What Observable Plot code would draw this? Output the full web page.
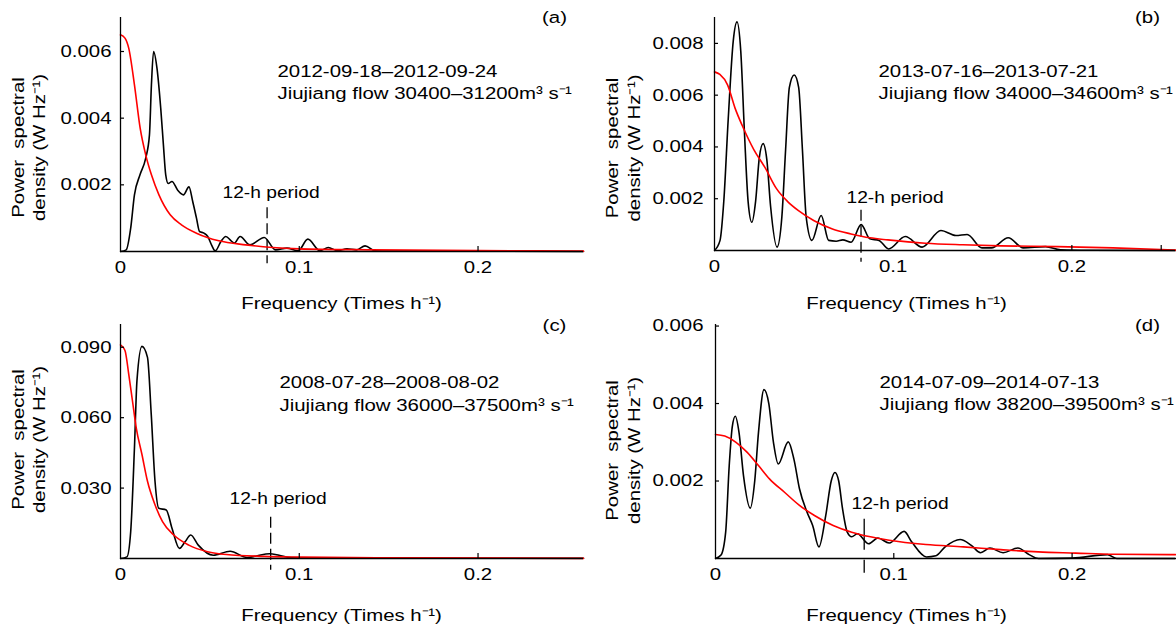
<!DOCTYPE html>
<html><head><meta charset="utf-8">
<script src="https://cdn.jsdelivr.net/npm/d3@7"></script>
<script src="https://cdn.jsdelivr.net/npm/@observablehq/plot@0.6"></script>
<style>
body{margin:0;background:#fff;}
#chart{position:relative;width:1176px;height:629px;overflow:hidden;background:#fff;}
#chart svg{position:absolute;}
</style></head><body><div id="chart"></div>
<script>
// ---------- DATA ----------
// (a) 2012-09-18 – 2012-09-24
const freqA = [0,0.0032,0.0057,0.0078,0.0109,0.0141,0.0162,0.0173,0.0185,0.0204,0.0225,0.024,0.0253,0.0267,0.0288,0.032,0.0352,0.0383,0.0404,0.0425,0.0442,0.0467,0.0488,0.0509,0.053,0.0562,0.0589,0.0619,0.0636,0.0669,0.0724,0.0804,0.0867,0.0931,0.0994,0.1048,0.1116,0.1162,0.1215,0.1267,0.132,0.1368,0.1425,0.15,0.2,0.259];
const psdA  = [0,0.00005,0.0007,0.0017,0.0023,0.0028,0.0035,0.005,0.006,0.0055,0.0043,0.0032,0.0023,0.00204,0.0021,0.00184,0.0017,0.00194,0.0015,0.001,0.0006,0.00055,0.00045,0.0002,0.00002,0.0003,0.00045,0.00032,0.00025,0.00045,0.0002,0.00042,0.00005,0.0001,0.00002,0.00037,0.00002,0.00012,0.00002,0.00008,0.00005,0.00017,0.00002,0.00001,0.00001,0];
const fitFreqA = [0,0.0025,0.0046,0.0078,0.011,0.0141,0.0173,0.0215,0.0278,0.0341,0.0425,0.055,0.07,0.085,0.1,0.14,0.2,0.259];
const fitA     = [0.0065,0.0064,0.0061,0.005,0.0037,0.0029,0.0023,0.0017,0.0011,0.0008,0.00055,0.00032,0.0002,0.00012,0.00008,0.00005,0.00003,0.00001];

// (b) 2013-07-16 – 2013-07-21
const freqB = [0,0.0031,0.0052,0.0077,0.0105,0.0126,0.0147,0.0168,0.0188,0.0209,0.023,0.0251,0.0272,0.0293,0.0314,0.035,0.0377,0.0398,0.0419,0.0446,0.0471,0.0492,0.0513,0.0545,0.0597,0.0639,0.0681,0.0718,0.0764,0.0821,0.0869,0.0921,0.0974,0.1068,0.1162,0.1267,0.1351,0.1414,0.1497,0.155,0.1644,0.1728,0.1853,0.1937,0.21,0.258];
const psdB  = [0,0.00039,0.0019,0.0051,0.0081,0.00883,0.0077,0.0045,0.0019,0.00109,0.0019,0.0036,0.00413,0.0035,0.0017,0.00013,0.0013,0.0039,0.0063,0.00678,0.0063,0.0039,0.0013,0.00039,0.00135,0.00039,0.00036,0.00041,0.00032,0.001,0.00045,0.00039,0.00006,0.00054,0.00013,0.00077,0.00058,0.00062,0.0001,0.0001,0.00049,0.0001,0.00015,0.00003,0.00001,0];
const fitFreqB = [0,0.003,0.0073,0.0115,0.0157,0.022,0.0283,0.0346,0.0408,0.047,0.0555,0.066,0.0764,0.087,0.097,0.118,0.139,0.16,0.192,0.223,0.258];
const fitB     = [0.0069,0.0068,0.0064,0.0055,0.0048,0.0039,0.0032,0.0024,0.0019,0.00154,0.00116,0.00083,0.00064,0.00049,0.00041,0.00028,0.00022,0.00018,0.00015,0.0001,0.00002];

// (c) 2008-07-28 – 2008-08-02
const freqC = [0,0.0036,0.0057,0.0078,0.0092,0.012,0.0151,0.0172,0.0193,0.0214,0.0256,0.0288,0.033,0.0361,0.0393,0.0435,0.0519,0.0613,0.0708,0.0761,0.0834,0.0887,0.095,0.12,0.259];
const psdC  = [0,0.0007,0.0114,0.0471,0.0757,0.0904,0.0857,0.0614,0.0329,0.0214,0.0207,0.0129,0.0043,0.0071,0.01,0.0057,0.0014,0.0031,0.0004,0.0011,0.002,0.0014,0.0004,0.0002,0.0001];
const fitFreqC = [0,0.0025,0.0046,0.0067,0.0088,0.012,0.0151,0.0193,0.0235,0.0298,0.0382,0.0487,0.0592,0.0803,0.101,0.143,0.259];
const fitC     = [0.091,0.0886,0.0786,0.0671,0.0557,0.0443,0.0329,0.0229,0.0157,0.01,0.0057,0.0029,0.0017,0.0009,0.0006,0.0003,0.00005];

// (d) 2014-07-09 – 2014-07-13
const freqD = [0,0.0031,0.0057,0.0077,0.0094,0.0111,0.0132,0.0157,0.0195,0.022,0.0241,0.0272,0.0299,0.0325,0.0352,0.0408,0.044,0.0471,0.0513,0.0545,0.058,0.0618,0.0649,0.067,0.0691,0.0712,0.0739,0.0764,0.0796,0.0859,0.0911,0.0974,0.1058,0.11,0.1183,0.1236,0.1288,0.1372,0.1435,0.1487,0.1539,0.1613,0.1696,0.1759,0.1812,0.2,0.2199,0.2251,0.258];
const psdD  = [0,0.00009,0.00068,0.0024,0.0034,0.00367,0.00325,0.00214,0.0013,0.002,0.00325,0.00436,0.004,0.003,0.00244,0.00301,0.00256,0.0018,0.0012,0.00085,0.0003,0.0011,0.002,0.00222,0.002,0.0013,0.00068,0.00056,0.00064,0.00038,0.00053,0.0004,0.0007,0.00043,0.00004,0.00007,0.0003,0.00049,0.00034,0.00015,0.00027,0.00015,0.00027,0.0001,0,0.00001,0.0001,0,0];
const fitFreqD = [0,0.0052,0.0115,0.0178,0.0241,0.0304,0.0387,0.0471,0.0555,0.066,0.0764,0.0869,0.0974,0.118,0.139,0.16,0.181,0.202,0.223,0.258];
const fitD     = [0.0032,0.00316,0.003,0.00274,0.0024,0.00205,0.00171,0.00137,0.00111,0.00085,0.00068,0.00056,0.00047,0.00036,0.0003,0.00023,0.00017,0.00014,0.00011,0.0001];

// tick values and labels
const yTicksA = [0.002,0.004,0.006];
const yTicksB = [0.002,0.004,0.006,0.008];
const yTicksC = [0.03,0.06,0.09];
const yTicksD = [0.002,0.004,0.006];
const xTickLabels = [0,0.1,0.2];
const xTickMarksA = [0.1,0.2];
const xTickMarksB = [0.2,0.25];
const xTickMarksC = [0.1,0.2];
const xTickMarksD = [0.1,0.2];

// 12-h period marker (frequency, top value, bottom value)
const periodFreq   = [0.082,0.082,0.084,0.0834];
const markerTop    = [0.00131,0.00155,0.0176,0.00101];
const markerBottom = [-0.00037,-0.00045,-0.005,-0.00038];

// texts
const panelLabels = ["(a)","(b)","(c)","(d)"];
const dateTexts = ["2012-09-18–2012-09-24","2013-07-16–2013-07-21","2008-07-28–2008-08-02","2014-07-09–2014-07-13"];
const flowTexts = ["Jiujiang flow 30400–31200m³ s⁻¹","Jiujiang flow 34000–34600m³ s⁻¹","Jiujiang flow 36000–37500m³ s⁻¹","Jiujiang flow 38200–39500m³ s⁻¹"];
const periodText = "12-h period";
const yTitle1 = "Power  spectral";
const yTitle2 = "density (W Hz⁻¹)";
const xTitle = "Frequency (Times h⁻¹)";

// ---------- LAYOUT ----------
const series = [
  {freq: freqA, psd: psdA, fitFreq: fitFreqA, fit: fitA, yTicks: yTicksA, xTicks: xTickMarksA},
  {freq: freqB, psd: psdB, fitFreq: fitFreqB, fit: fitB, yTicks: yTicksB, xTicks: xTickMarksB},
  {freq: freqC, psd: psdC, fitFreq: fitFreqC, fit: fitC, yTicks: yTicksC, xTicks: xTickMarksC},
  {freq: freqD, psd: psdD, fitFreq: fitFreqD, fit: fitD, yTicks: yTicksD, xTicks: xTickMarksD}
];
const layouts = [
 {left:0, top:0, width:590, height:315, mL:120, mR:7, mT:17, mB:64, xMax:0.259, yMax:0.00702, tickPad:9, dash:"11,5",
  lab:[434,0], ann:[157,54,76], per:[102,175], ylab:[-102,-81,13], xlab:[221,52]},
 {left:590, top:0, width:586, height:315, mL:124, mR:1, mT:17, mB:65, xMax:0.258, yMax:0.009, tickPad:11, dash:"11,5",
  lab:[433,0], ann:[164,54,76], per:[132,180], ylab:[-102,-80,14], xlab:[192,53]},
 {left:0, top:315, width:590, height:314, mL:120, mR:7, mT:9, mB:71, xMax:0.259, yMax:0.0997, tickPad:9, dash:"11,5",
  lab:[434,1], ann:[159,58,81], per:[109,174], ylab:[-102,-81,-2], xlab:[221,57]},
 {left:590, top:315, width:586, height:314, mL:125, mR:1, mT:9, mB:71, xMax:0.258, yMax:0.00604, tickPad:12, dash:"31,10",
  lab:[432,1], ann:[164,58,80], per:[136,179], ylab:[-103,-81,9], xlab:[191,57]}
];
const FONT = "'Liberation Sans', Arial, Helvetica, sans-serif";
const STRETCH = 1.2;

function stretchText(svg, s) {
  svg.querySelectorAll("text").forEach(t => {
    const xa = t.getAttribute("x"), ya = t.getAttribute("y");
    const x = xa == null ? 0 : +xa, y = ya == null ? 0 : +ya;
    const tr = t.getAttribute("transform") || "";
    if (!isNaN(x) && !isNaN(y)) {
      t.setAttribute("transform", `${tr} translate(${x},${y}) scale(${s},1)`);
      t.removeAttribute("x"); t.removeAttribute("y");
    } else {
      t.setAttribute("transform", `${tr} scale(${s},1)`);
    }
  });
}

const root = document.getElementById("chart");
layouts.forEach((L, i) => {
  const S = series[i];
  const fw = L.width - L.mL - L.mR, fh = L.height - L.mT - L.mB;
  const black = S.freq.map((f, k) => ({f, p: S.psd[k]}));
  const red = S.fitFreq.map((f, k) => ({f, p: S.fit[k]}));
  const txt = (s, o) => Plot.text([s], {text: d => d, fill: "black", ...o});
  const svg = Plot.plot({
    width: L.width, height: L.height,
    marginLeft: L.mL, marginRight: L.mR, marginTop: L.mT, marginBottom: L.mB,
    x: {domain: [0, L.xMax]},
    y: {domain: [0, L.yMax]},
    style: {fontFamily: FONT, fontSize: "17px", color: "black", background: "white", overflow: "visible"},
    marks: [
      Plot.ruleX([{x: periodFreq[i], y1: markerTop[i], y2: markerBottom[i]}],
        {x: "x", y1: "y1", y2: "y2", stroke: "black", strokeWidth: 1.3, strokeDasharray: L.dash}),
      Plot.line(black, {x: "f", y: "p", stroke: "black", strokeWidth: 1.6, curve: "monotone-x"}),
      Plot.line(red, {x: "f", y: "p", stroke: "#ff0000", strokeWidth: 1.6, curve: "monotone-x"}),
      Plot.ruleX([0], {stroke: "black", strokeWidth: 1.3}),
      Plot.ruleY([0], {stroke: "black", strokeWidth: 1.3}),
      Plot.tickY(S.yTicks, {y: d => d, insetRight: fw - 4, stroke: "black", strokeWidth: 1.2}),
      Plot.tickX(S.xTicks, {x: d => d, insetTop: fh - 5, stroke: "black", strokeWidth: 1.2}),
      Plot.axisY(S.yTicks, {tickSize: 0, tickPadding: L.tickPad, tickFormat: d3.format(".3f"), label: null, fontSize: 17}),
      Plot.axisX(xTickLabels, {tickSize: 0, tickPadding: 9, tickFormat: d => String(d), label: null, fontSize: 17}),
      txt(panelLabels[i], {frameAnchor: "top-left", dx: L.lab[0], dy: L.lab[1], textAnchor: "middle", lineAnchor: "middle", fontSize: 17}),
      txt(dateTexts[i], {frameAnchor: "top-left", dx: L.ann[0], dy: L.ann[1], textAnchor: "start", lineAnchor: "middle", fontSize: 17}),
      txt(flowTexts[i], {frameAnchor: "top-left", dx: L.ann[0], dy: L.ann[2], textAnchor: "start", lineAnchor: "middle", fontSize: 17}),
      txt(periodText, {frameAnchor: "top-left", dx: L.per[0], dy: L.per[1], textAnchor: "start", lineAnchor: "middle", fontSize: 16}),
      txt(yTitle1, {frameAnchor: "left", rotate: -90, dx: L.ylab[0], dy: L.ylab[2], textAnchor: "middle", lineAnchor: "middle", fontSize: 17}),
      txt(yTitle2, {frameAnchor: "left", rotate: -90, dx: L.ylab[1], dy: L.ylab[2], textAnchor: "middle", lineAnchor: "middle", fontSize: 17}),
      txt(xTitle, {frameAnchor: "bottom-left", dx: L.xlab[0], dy: L.xlab[1], textAnchor: "middle", lineAnchor: "middle", fontSize: 17})
    ]
  });
  svg.style.left = L.left + "px";
  svg.style.top = L.top + "px";
  svg.querySelectorAll("text").forEach(t => t.setAttribute("xml:space", "preserve"));
  svg.style.whiteSpace = "pre";
  stretchText(svg, STRETCH);
  root.appendChild(svg);
});
</script>
</body></html>
